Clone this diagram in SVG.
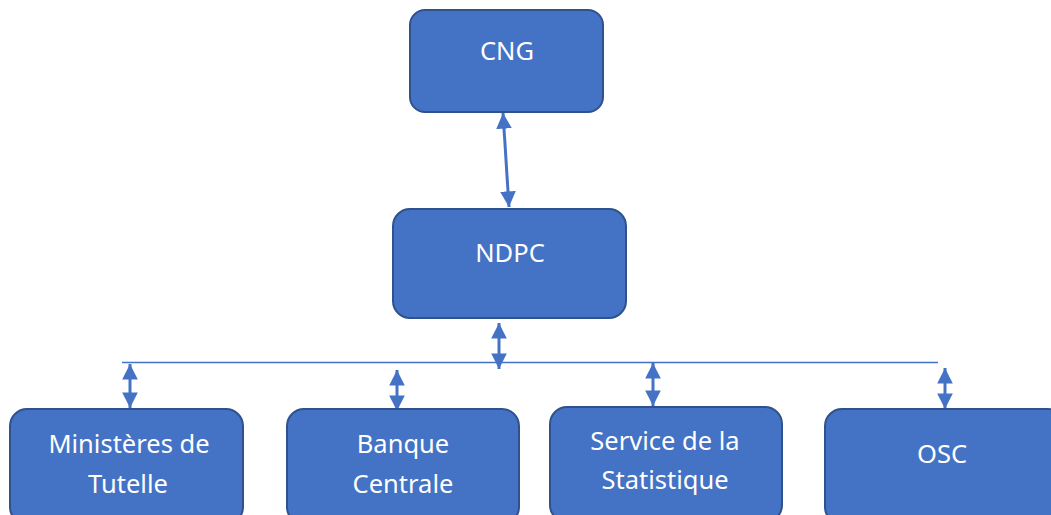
<svg xmlns="http://www.w3.org/2000/svg" width="1051" height="515" viewBox="0 0 1051 515">
<style>
.box{fill:#4472C4;stroke:#2F528F;stroke-width:2}
.t{font-family:"Noto Sans","Liberation Sans",sans-serif;font-size:25.5px;fill:#fff;text-anchor:middle}
.c{stroke:#4472C4;stroke-width:3;fill:none}
</style>
<defs>
<marker id="ah" viewBox="0 0 10 10" refX="10" refY="5" markerWidth="5.3" markerHeight="5.2" orient="auto-start-reverse" markerUnits="strokeWidth">
<path d="M0,0 L10,5 L0,10 Z" fill="#4472C4"/>
</marker>
</defs>
<g id="connectors">
<line class="c" x1="503" y1="113" x2="509" y2="207" marker-start="url(#ah)" marker-end="url(#ah)"/>
<line class="c" x1="499" y1="323" x2="499" y2="369" marker-start="url(#ah)" marker-end="url(#ah)"/>
<line x1="122" y1="362.5" x2="938" y2="362.5" stroke="#4472C4" stroke-width="1.5"/>
<line class="c" x1="130" y1="364" x2="130" y2="408" marker-start="url(#ah)" marker-end="url(#ah)"/>
<line class="c" x1="397" y1="370" x2="397" y2="411" marker-start="url(#ah)" marker-end="url(#ah)"/>
<line class="c" x1="653" y1="363" x2="653" y2="406" marker-start="url(#ah)" marker-end="url(#ah)"/>
<line class="c" x1="945" y1="368" x2="945" y2="409" marker-start="url(#ah)" marker-end="url(#ah)"/>
</g>
<g id="cng">
<rect class="box" x="410" y="10" width="193" height="102" rx="15"/>
<text class="t" x="507" y="60">CNG</text>
</g>
<g id="ndpc">
<rect class="box" x="393" y="209" width="233" height="109" rx="17"/>
<text class="t" x="510" y="262">NDPC</text>
</g>
<g id="ministeres">
<rect class="box" x="10" y="409" width="233" height="115" rx="17"/>
<text class="t" x="129" y="453">Ministères de</text>
<text class="t" x="128" y="493">Tutelle</text>
</g>
<g id="banque">
<rect class="box" x="287" y="409" width="232" height="115" rx="17"/>
<text class="t" x="403" y="453">Banque</text>
<text class="t" x="403" y="493">Centrale</text>
</g>
<g id="service">
<rect class="box" x="550" y="407" width="232" height="115" rx="17"/>
<text class="t" x="665" y="450">Service de la</text>
<text class="t" x="665" y="489">Statistique</text>
</g>
<g id="osc">
<rect class="box" x="825" y="409" width="240" height="115" rx="17"/>
<text class="t" x="942" y="463">OSC</text>
</g>
</svg>
